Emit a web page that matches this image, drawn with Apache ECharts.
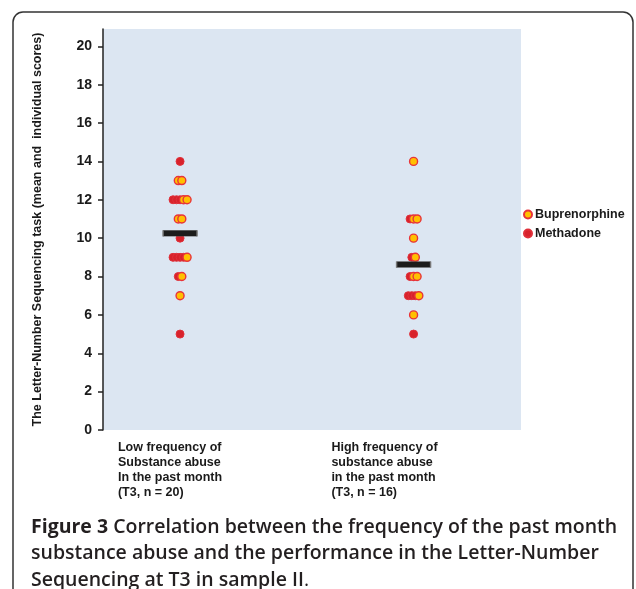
<!DOCTYPE html>
<html>
<head>
<meta charset="utf-8">
<script src="https://cdn.jsdelivr.net/npm/echarts@6/dist/echarts.min.js"></script>
<style>html,body{margin:0;padding:0;background:#fff}#c{width:636px;height:589px}</style>
</head>
<body>
<div id="c"></div>
<script>
// ---- data ----
var groupNames = ['Low frequency of\nSubstance abuse\nIn the past month\n(T3, n = 20)',
                  'High frequency of\nsubstance abuse\nin the past month\n(T3, n = 16)'];
var lowBuprenorphine = [13, 13, 12, 12, 11, 11, 9, 8, 7];
var lowMethadone = [14, 12, 12, 12, 10, 9, 9, 9, 9, 8, 5];
var highBuprenorphine = [14, 11, 11, 10, 9, 8, 8, 7, 6];
var highMethadone = [11, 9, 8, 7, 7, 7, 5];
var yTicks = [0, 2, 4, 6, 8, 10, 12, 14, 16, 18, 20];

// ---- layout helpers ----
var groupX = [1, 2];          // group centres on the x scale
var labelX = [0.734, 1.648];  // where the group captions start
var spacing = 0.015;          // horizontal spread between tied points

function swarm(cx, meth, bup) {
  var levels = {};
  meth.forEach(function (v) { (levels[v] = levels[v] || {m: 0, b: 0}).m++; });
  bup.forEach(function (v) { (levels[v] = levels[v] || {m: 0, b: 0}).b++; });
  var outM = [], outB = [];
  Object.keys(levels).forEach(function (k) {
    var L = levels[k], n = L.m + L.b, y = +k;
    for (var i = 0; i < n; i++) {
      var x = cx + (i - (n - 1) / 2) * spacing;
      if (i < L.m) outM.push([x, y]); else outB.push([x, y]);
    }
  });
  return {m: outM, b: outB};
}
function mean(a) { return a.reduce(function (s, v) { return s + v; }, 0) / a.length; }

var low = swarm(groupX[0], lowMethadone, lowBuprenorphine);
var high = swarm(groupX[1], highMethadone, highBuprenorphine);
var means = [
  [groupX[0], mean(lowMethadone.concat(lowBuprenorphine))],
  [groupX[1], mean(highMethadone.concat(highBuprenorphine))]
];

var axisFont = 'Liberation Sans, Arial, sans-serif';
var chart = echarts.init(document.getElementById('c'));
chart.setOption({
  backgroundColor: '#fff',
  animation: false,
  grid: {left: 103, right: 115, top: 29, bottom: 159, show: true,
         backgroundColor: '#dce6f2', borderWidth: 0},
  xAxis: {
    type: 'value', min: 0.67, max: 2.46,
    axisLine: {show: false}, axisTick: {show: false}, splitLine: {show: false},
    axisLabel: {
      customValues: labelX,
      formatter: function (v) {
        var best = 0;
        labelX.forEach(function (p, i) { if (Math.abs(p - v) < Math.abs(labelX[best] - v)) best = i; });
        return groupNames[best];
      },
      align: 'left', verticalAlign: 'top', margin: 10,
      fontFamily: axisFont, fontSize: 12.5, fontWeight: 'bold', color: '#1a1a1a', lineHeight: 15
    }
  },
  yAxis: {
    type: 'value', min: 0, max: 20.9,
    name: 'The Letter-Number Sequencing task (mean and  individual scores)',
    nameLocation: 'middle', nameGap: 59,
    nameTextStyle: {fontFamily: axisFont, fontSize: 12.5, fontWeight: 'bold', color: '#1a1a1a'},
    axisLine: {show: true, lineStyle: {color: '#222', width: 1.5}},
    axisTick: {show: true, length: 5, customValues: yTicks, lineStyle: {color: '#222', width: 1.5}},
    splitLine: {show: false},
    axisLabel: {customValues: yTicks, margin: 11, fontFamily: axisFont, fontSize: 14,
                fontWeight: 'bold', color: '#1a1a1a'}
  },
  legend: {
    data: ['Buprenorphine', 'Methadone'],
    orient: 'vertical', left: 518, top: 203, itemWidth: 8, itemHeight: 8, itemGap: 6,
    icon: 'circle',
    textStyle: {fontFamily: axisFont, fontSize: 12.5, fontWeight: 'bold', color: '#1a1a1a', padding: [0, 0, 0, -2]}
  },
  series: [
    {name: 'Methadone', type: 'scatter', symbol: 'circle', symbolSize: 8, z: 2,
     itemStyle: {color: '#d8222b', borderColor: '#e0303a', borderWidth: 1, opacity: 1},
     data: low.m.concat(high.m)},
    {name: 'Buprenorphine', type: 'scatter', symbol: 'circle', symbolSize: 8, z: 3,
     itemStyle: {color: '#ffc000', borderColor: '#e8333a', borderWidth: 1.4, opacity: 1},
     data: low.b.concat(high.b)},
    {name: 'Mean', type: 'scatter', symbol: 'rect', symbolSize: [34, 6], z: 4,
     itemStyle: {color: '#1c1c1c', borderColor: '#777', borderWidth: 0.6, opacity: 1},
     data: means}
  ],
  title: {
    text: '{b|Figure 3} Correlation between the frequency of the past month\nsubstance abuse and the performance in the Letter-Number\nSequencing at T3 in sample II{n|.}',
    left: 26, top: 509,
    textStyle: {
      fontFamily: 'Open Sans', fontSize: 19.5, fontWeight: 600, color: '#231f20', lineHeight: 26.5,
      rich: {
        b: {fontFamily: 'Open Sans', fontSize: 19.5, fontWeight: 'bold', color: '#231f20', lineHeight: 26.5},
        n: {fontFamily: 'Open Sans', fontSize: 19.5, fontWeight: 'normal', color: '#231f20', lineHeight: 26.5}
      }
    }
  },
  graphic: [{
    type: 'rect', silent: true, z: 0,
    shape: {x: 13, y: 12, width: 620, height: 700, r: 10},
    style: {fill: 'none', stroke: '#333', lineWidth: 1.5}
  }]
});
</script>
</body>
</html>
